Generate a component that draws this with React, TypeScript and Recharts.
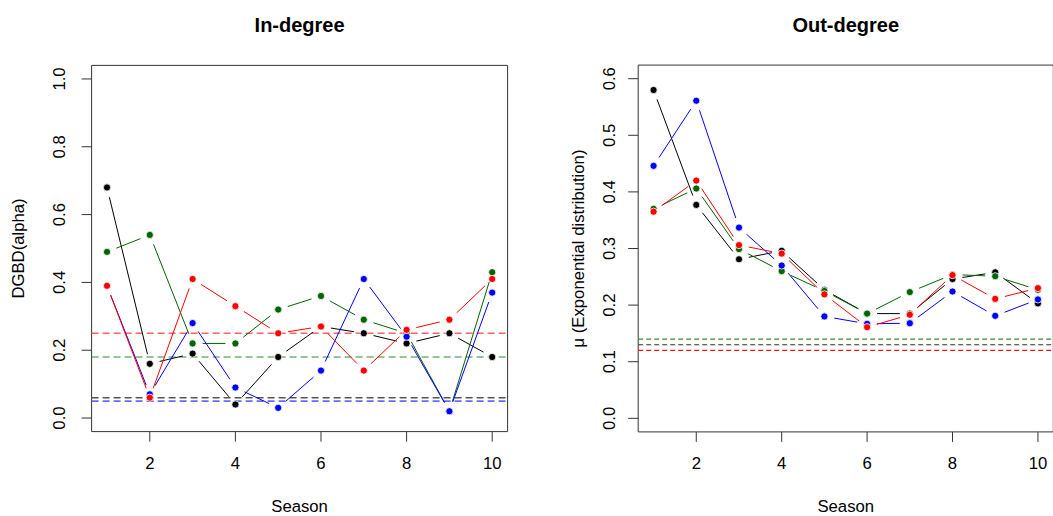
import React from 'react';
import { LineChart, Line, XAxis, YAxis, ReferenceLine, ReferenceArea } from 'recharts';

// ---- data ----
const seasons = [1, 2, 3, 4, 5, 6, 7, 8, 9, 10];
const xTicks = [2, 4, 6, 8, 10];
const inTicks = [0, 0.2, 0.4, 0.6, 0.8, 1.0];
const outTicks = [0, 0.1, 0.2, 0.3, 0.4, 0.5, 0.6];

const inBlack = [0.68, 0.16, 0.19, 0.04, 0.18, 0.27, 0.25, 0.22, 0.25, 0.18];
const inGreen = [0.49, 0.54, 0.22, 0.22, 0.32, 0.36, 0.29, 0.25, 0.02, 0.43];
const inBlue = [0.39, 0.07, 0.28, 0.09, 0.03, 0.14, 0.41, 0.24, 0.02, 0.37];
const inRed = [0.39, 0.06, 0.41, 0.33, 0.25, 0.27, 0.14, 0.26, 0.29, 0.41];

const outBlack = [0.58, 0.377, 0.281, 0.296, 0.227, 0.185, 0.185, 0.246, 0.258, 0.203];
const outGreen = [0.37, 0.406, 0.299, 0.26, 0.225, 0.185, 0.223, 0.254, 0.251, 0.227];
const outBlue = [0.446, 0.561, 0.337, 0.27, 0.18, 0.167, 0.168, 0.224, 0.181, 0.21];
const outRed = [0.365, 0.42, 0.306, 0.291, 0.219, 0.161, 0.183, 0.253, 0.211, 0.23];

// horizontal reference levels
const inRefBlack = 0.06;
const inRefRed = 0.25;
const inRefGreen = 0.18;
const inRefBlue = 0.05;
const outRefBlack = 0.13;
const outRefRed = 0.12;
const outRefGreen = 0.14;

const inData = seasons.map((s, i) => ({ season: s, black: inBlack[i], green: inGreen[i], blue: inBlue[i], red: inRed[i] }));
const outData = seasons.map((s, i) => ({ season: s, black: outBlack[i], green: outGreen[i], blue: outBlue[i], red: outRed[i] }));

// ---- styles ----
const FONT = '"Liberation Sans", Arial, Helvetica, sans-serif';
const SERIES = [
  { key: 'black', color: '#000000' },
  { key: 'green', color: '#006400' },
  { key: 'blue', color: '#0000ff' },
  { key: 'red', color: '#ff0000' },
];
const GAP = 10;
const DOT_R = 3.6;

type RefStyle = { value: number; color: string; width: number; dash: string };

const inRefs: RefStyle[] = [
  { value: inRefGreen, color: '#2f8a2f', width: 1.2, dash: '7 4' },
  { value: inRefRed, color: '#ff6464', width: 1.6, dash: '7 4' },
  { value: inRefBlue, color: '#6a6aff', width: 1.6, dash: '7 4' },
  { value: inRefBlack, color: '#555555', width: 1.6, dash: '7 4' },
];
const outRefs: RefStyle[] = [
  { value: outRefGreen, color: '#3a8a3a', width: 1.2, dash: '5 3' },
  { value: outRefBlack, color: '#333333', width: 1.2, dash: '5 3' },
  { value: outRefRed, color: '#ff1010', width: 1.2, dash: '5 3' },
];

// dot renderer for R's type="b": point plus a gapped segment back to the previous point
function makeDot(color: string) {
  const prev: Record<number, { x: number; y: number }> = {};
  return (props: any) => {
    const { cx, cy, index } = props;
    prev[index] = { x: cx, y: cy };
    let seg: React.ReactNode = null;
    const p = index > 0 ? prev[index - 1] : undefined;
    if (p && cx != null && cy != null) {
      const dx = cx - p.x;
      const dy = cy - p.y;
      const len = Math.sqrt(dx * dx + dy * dy);
      if (len > 2 * GAP) {
        const ux = dx / len;
        const uy = dy / len;
        seg = (
          <line
            x1={p.x + ux * GAP}
            y1={p.y + uy * GAP}
            x2={cx - ux * GAP}
            y2={cy - uy * GAP}
            stroke={color}
            strokeWidth={1}
          />
        );
      }
    }
    return (
      <g key={`dot-${color}-${index}`}>
        {seg}
        <circle cx={cx} cy={cy} r={DOT_R} fill={color} stroke="#ffffff" strokeWidth={0.8} />
      </g>
    );
  };
}

type PanelProps = {
  data: any[];
  left: number;
  width: number;
  yAxisWidth: number;
  marginRight: number;
  marginTop: number;
  xAxisHeight: number;
  domain: [number, number];
  ticks: number[];
  refs: RefStyle[];
  yLabelX: number;
};

function Panel(p: PanelProps) {
  const XTick = (props: any) => (
    <text x={props.x} y={469} textAnchor="middle" fontSize={16.7} fontFamily={FONT} fill="#000">
      {props.payload.value}
    </text>
  );
  const YTick = (props: any) => (
    <text
      x={p.yLabelX}
      y={props.y}
      transform={`rotate(-90, ${p.yLabelX}, ${props.y})`}
      textAnchor="middle"
      fontSize={16.7}
      fontFamily={FONT}
      fill="#000"
    >
      {Number(props.payload.value).toFixed(1)}
    </text>
  );
  return (
    <div style={{ position: 'absolute', left: p.left, top: 0 }}>
      <LineChart
        width={p.width}
        height={516}
        data={p.data}
        margin={{ top: p.marginTop, right: p.marginRight, left: 0, bottom: 0 }}
      >
        <XAxis
          dataKey="season"
          type="number"
          domain={[0.64, 10.36]}
          ticks={xTicks}
          allowDataOverflow
          axisLine={false}
          tickLine={{ stroke: '#333', strokeWidth: 1 }}
          tickSize={10}
          height={p.xAxisHeight}
          tick={XTick}
          interval={0}
        />
        <YAxis
          type="number"
          domain={p.domain}
          ticks={p.ticks}
          allowDataOverflow
          axisLine={false}
          tickLine={{ stroke: '#333', strokeWidth: 1 }}
          tickSize={10}
          width={p.yAxisWidth}
          tick={YTick}
          interval={0}
        />
        {p.refs.map((r, i) => (
          <ReferenceLine
            key={'r-' + i}
            y={r.value}
            stroke={r.color}
            strokeWidth={r.width}
            strokeDasharray={r.dash}
          />
        ))}
        {SERIES.map((s) => (
          <Line
            key={'l-' + s.key}
            dataKey={s.key}
            stroke="transparent"
            strokeOpacity={0}
            strokeWidth={0}
            isAnimationActive={false}
            activeDot={false}
            dot={makeDot(s.color)}
          />
        ))}
        <ReferenceArea
          x1={0.64}
          x2={10.36}
          y1={p.domain[0]}
          y2={p.domain[1]}
          fill="none"
          fillOpacity={0}
          stroke="#333"
          strokeWidth={1}
        />
      </LineChart>
    </div>
  );
}

export default function App() {
  const leftCx = 299.6;
  const rightCx = 845.75;
  const midY = 248.5;
  return (
    <div
      style={{
        position: 'absolute',
        left: 0,
        top: 0,
        width: 1053,
        height: 516,
        overflow: 'hidden',
        background: '#fff',
      }}
    >
      <Panel
        data={inData}
        left={0}
        width={526}
        yAxisWidth={91.6}
        marginRight={18.4}
        marginTop={65.4}
        xAxisHeight={84.4}
        domain={[-0.04, 1.04]}
        ticks={inTicks}
        refs={inRefs}
        yLabelX={65}
      />
      <Panel
        data={outData}
        left={526}
        width={527.3}
        yAxisWidth={112.2}
        marginRight={0}
        marginTop={65.1}
        xAxisHeight={84.1}
        domain={[-0.024, 0.624]}
        ticks={outTicks}
        refs={outRefs}
        yLabelX={89}
      />
      <svg
        width={1053}
        height={516}
        style={{ position: 'absolute', left: 0, top: 0, pointerEvents: 'none' }}
      >
        <text x={leftCx} y={32} textAnchor="middle" fontSize={20} fontWeight="bold" fontFamily={FONT} fill="#000">
          In-degree
        </text>
        <text x={rightCx} y={32} textAnchor="middle" fontSize={20} fontWeight="bold" fontFamily={FONT} fill="#000">
          Out-degree
        </text>
        <text x={leftCx} y={512} textAnchor="middle" fontSize={16.7} fontFamily={FONT} fill="#000">
          Season
        </text>
        <text x={rightCx} y={512} textAnchor="middle" fontSize={16.7} fontFamily={FONT} fill="#000">
          Season
        </text>
        <text x={23.5} y={midY} transform={`rotate(-90, 23.5, ${midY})`} textAnchor="middle" fontSize={16.7} fontFamily={FONT} fill="#000">
          DGBD(alpha)
        </text>
        <text x={583.5} y={midY} transform={`rotate(-90, 583.5, ${midY})`} textAnchor="middle" fontSize={16.7} fontFamily={FONT} fill="#000">
          μ (Exponential distribution)
        </text>
      </svg>
    </div>
  );
}
